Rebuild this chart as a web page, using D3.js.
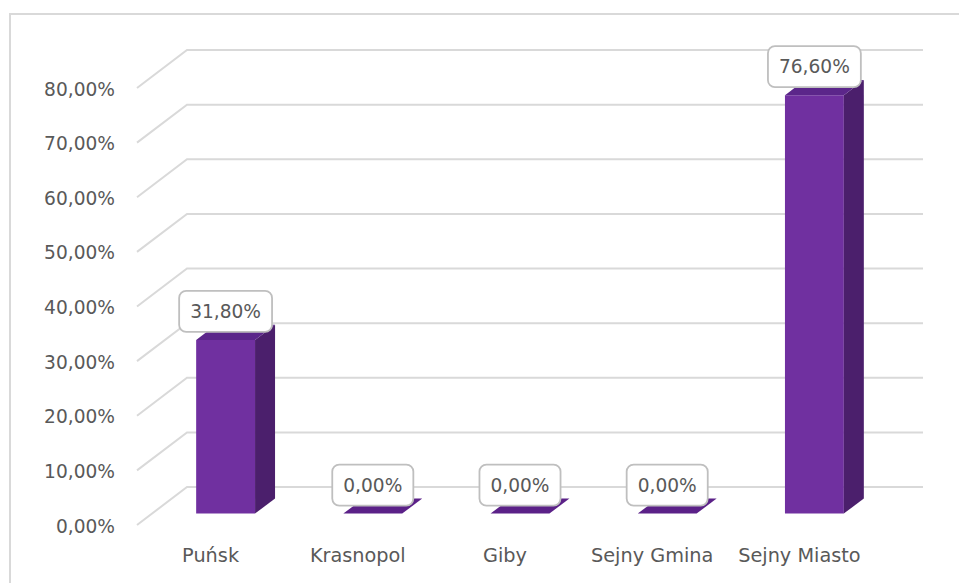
<!DOCTYPE html>
<html>
<head>
<meta charset="utf-8">
<script src="https://cdn.jsdelivr.net/npm/d3@7"></script>
<style>
  html, body { margin: 0; padding: 0; background: #fff; }
  svg { display: block; }
  text { font-family: "DejaVu Sans", sans-serif; fill: #595959; }
</style>
</head>
<body>
<svg id="chart" width="959" height="583"></svg>
<script>
const categories = ["Puńsk", "Krasnopol", "Giby", "Sejny Gmina", "Sejny Miasto"];
const values = [0.318, 0.0, 0.0, 0.0, 0.766];
const tickValues = [0, 0.1, 0.2, 0.3, 0.4, 0.5, 0.6, 0.7, 0.8];
const fmt = v => (v * 100).toFixed(2).replace(".", ",") + "%";

(function () {
const svg = d3.select("#chart");

// frame
svg.append("rect").attr("x", 10).attr("y", 14).attr("width", 980).attr("height", 600)
  .attr("fill", "none").attr("stroke", "#d9d9d9").attr("stroke-width", 2);

// front plane geometry
const x = d3.scaleBand().domain(categories).range([137, 873]).paddingInner(0).paddingOuter(0);
const y = d3.scaleLinear().domain([0, 0.8]).range([525, 88]);
const depth = { dx: 50, dy: -38 };
const backRight = 923;
const d0 = 0.3, d1 = 0.7; // bar depth fraction
const barW = x.bandwidth() / 2.5;

// gridlines (side wall + back wall)
const g = svg.append("g");
tickValues.forEach(v => {
  const yf = y(v);
  g.append("polyline")
    .attr("points", [[x.range()[0], yf], [x.range()[0] + depth.dx, yf + depth.dy], [backRight, yf + depth.dy]].map(p => p.join(",")).join(" "))
    .attr("fill", "none").attr("stroke", "#d9d9d9").attr("stroke-width", 2);
});

// y axis labels
svg.append("g").selectAll("text").data(tickValues).join("text")
  .attr("x", 115).attr("y", d => y(d) + 2)
  .attr("text-anchor", "end").attr("dominant-baseline", "middle")
  .style("font-size", "18.6px")
  .text(fmt);

// bars
const frontCol = "#7030a0", sideCol = "#4b1f6c", topCol = "#5b268a";
const bars = svg.append("g");
categories.forEach((c, i) => {
  const v = values[i];
  const xl = x(c) + (x.bandwidth() - barW) / 2 + depth.dx * d0;
  const xr = xl + barW;
  const yb = y(0) + depth.dy * d0;
  const yt = y(v) + depth.dy * d0;
  const ddx = depth.dx * (d1 - d0), ddy = depth.dy * (d1 - d0);
  const grp = bars.append("g");
  if (v > 0) {
    grp.append("polygon").attr("points", [[xl, yb], [xr, yb], [xr, yt], [xl, yt]].map(p => p.join(",")).join(" ")).attr("fill", frontCol);
    grp.append("polygon").attr("points", [[xr, yb], [xr + ddx, yb + ddy], [xr + ddx, yt + ddy], [xr, yt]].map(p => p.join(",")).join(" ")).attr("fill", sideCol);
  }
  grp.append("polygon").attr("points", [[xl, yt], [xr, yt], [xr + ddx, yt + ddy], [xl + ddx, yt + ddy]].map(p => p.join(",")).join(" ")).attr("fill", v > 0 ? topCol : "#5b2188");

  // data label
  const cx = (xl + xr) / 2;
  const lbl = svg.append("g");
  const t = lbl.append("text").attr("x", cx).attr("text-anchor", "middle")
    .style("font-size", "18.6px").text(fmt(v));
  const tw = t.node().getComputedTextLength();
  const bw = tw + 22, bh = 41;
  const by = yt - 8 - bh;
  lbl.insert("rect", "text").attr("x", cx - bw / 2).attr("y", by).attr("width", bw).attr("height", bh)
    .attr("rx", 7).attr("fill", "#fff").attr("stroke", "#bfbfbf").attr("stroke-width", 1.8);
  t.attr("y", by + bh / 2 + 1).attr("dominant-baseline", "middle");
});

// category labels
svg.append("g").selectAll("text").data(categories).join("text")
  .attr("x", d => x(d) + x.bandwidth() / 2).attr("y", 556)
  .attr("text-anchor", "middle").attr("dominant-baseline", "middle")
  .style("font-size", "19.3px")
  .text(d => d);
})();
</script>
</body>
</html>
